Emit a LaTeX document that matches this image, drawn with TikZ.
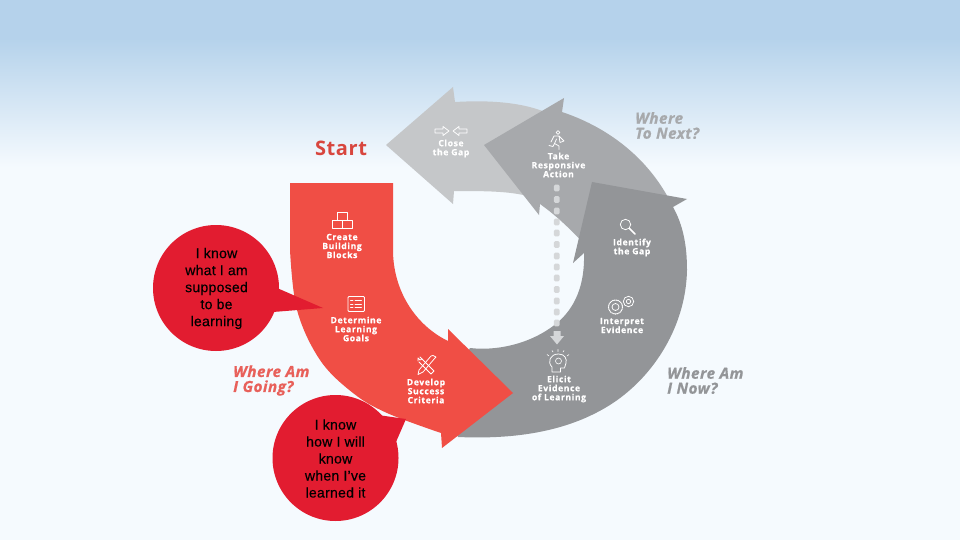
\documentclass[tikz,border=0pt]{standalone}
\usepackage{fontspec}
\setmainfont{Open Sans}
\newfontfamily\callfont[LetterSpace=2,FakeBold=0.3]{Liberation Sans}
\newfontfamily\labfont[LetterSpace=7,BoldFeatures={FakeBold=0.7}]{Open Sans}
\newfontfamily\headfont[LetterSpace=3,BoldItalicFeatures={FakeBold=0.7}]{Open Sans}
\definecolor{redA}{HTML}{F04E45}
\definecolor{redH}{HTML}{E8605A}
\definecolor{greyA}{HTML}{C5C7C9}
\definecolor{greyB}{HTML}{A7A9AC}
\definecolor{greyC}{HTML}{939598}
\definecolor{dotc}{HTML}{D5D7D9}
\definecolor{callc}{HTML}{E21C30}
\definecolor{bgtop}{HTML}{B5D2EB}
\definecolor{bgbot}{HTML}{F5FAFE}
\tikzset{
 lab/.style={text=white,font=\labfont\bfseries\fontsize{8.6}{9}\selectfont,align=center,inner sep=0pt},
 headA/.style={font=\headfont\bfseries\itshape\fontsize{15.3}{15}\selectfont,align=left,inner sep=0pt,anchor=west},
 call/.style={font=\callfont\fontsize{14}{17}\selectfont,align=center,text=black,inner sep=0pt},
 ico/.style={draw=white,line width=.75pt,line join=round,line cap=round,fill=none},
 dotm/.style={fill=dotc,rounded corners=1.5pt,draw=none}
}
\begin{document}
\begin{tikzpicture}[x=1pt,y=-1pt]
\useasboundingbox (0,0) rectangle (960,540);
\fill[bgbot] (0,0) rectangle (960,540);
\fill[bgtop] (0,0) rectangle (960,38);
\shade[top color=bgtop,bottom color=bgbot] (0,38) rectangle (960,167);
% light grey arrow
\fill[greyA] (386,145) -- (453,87) -- (455,102) .. controls (490,100) and (525,102) .. (552,115)
  -- (560,200) -- (523,195) .. controls (505,191) and (480,191) .. (454,191) -- (453,204) -- cycle;
% mid grey arrow
\fill[greyB] (484,145) -- (564,98) -- (562,112) .. controls (610,128) and (650,160) .. (672,205)
  -- (590,250) .. controls (580,240) and (565,222) .. (540,204) -- (539,215) -- cycle;
% dark grey arc with head
\fill[greyC] (592,182) -- (687,199) -- (673,207) .. controls (683,225) and (687,245) .. (687,270)
  .. controls (686,325) and (655,375) .. (613,403) .. controls (575,428) and (525,440) .. (458,437)
  -- (440,400) -- (470,348) .. controls (495,351) and (530,345) .. (557,323)
  .. controls (575,308) and (585,285) .. (584,253) -- (573,263) -- cycle;
% red arrow
\fill[redA] (290,183) -- (393,183) -- (393,250) .. controls (393,290) and (415,325) .. (448,341)
  -- (448,329) -- (513,393) -- (442,448) -- (441,433)
  -- plot[smooth,tension=.6] coordinates {(441,433) (387,413) (353,393) (320,360) (297,310) (290,250)} -- cycle;
% dotted column
\foreach \yy in {188,199.5,211,222,233,244.5,256,267,278,289.5,301,312,323}
  \fill[dotm] (553.8,\yy-3.4) rectangle (559.6,\yy+3.4);
\fill[dotc] (553.5,331) -- (560.5,331) -- (560.5,336) -- (564,336) -- (557,344.5) -- (550,336) -- (553.5,336) -- cycle;
% callouts
\fill[callc] (216,288) circle (63);
\fill[callc] (277,288) -- (323,308) -- (273,312) -- cycle;
\fill[callc] (335.5,458) circle (63);
\fill[callc] (378,415) -- (406,419) -- (396,442) -- cycle;
\node[call] (c1) at (216.5,288.5) {I know\\what I am\\supposed\\to be\\learning};
\node[call] (c2) at (335.5,458.5) {I know\\how I will\\know\\when I’ve\\learned it};
% headings
\node[font=\headfont\bfseries\fontsize{20}{20}\selectfont,text=redA!90!black,inner sep=0pt] (st) at (341,148) {Start};
\node[headA,text=greyB] (h1) at (635,125.5) {Where\\To Next?};
\node[headA,text=greyC] (h2) at (667,380.5) {Where Am\\I Now?};
\node[headA,text=redH] (h3) at (233,380.5) {Where Am\\I Going?};
% labels
\node[lab] (l1) at (342,246) {Create\\Building\\Blocks};
\node[lab] (l2) at (356,329) {Determine\\Learning\\Goals};
\node[lab] (l3) at (426,391) {Develop\\Success\\Criteria};
\node[lab] (l4) at (559,389) {Elicit\\Evidence\\of Learning};
\node[lab] (l5) at (622,325.5) {Interpret\\Evidence};
\node[lab] (l6) at (632,247.5) {Identify\\the Gap};
\node[lab] (l7) at (558.5,165) {Take\\Responsive\\Action};
\node[lab] (l8) at (451,148.5) {Close\\the Gap};
% icons: blocks
\draw[ico] (332.5,220.5) rectangle (342.5,228.5) (342.5,220.5) rectangle (352.5,228.5) (337.5,212) rectangle (347.5,220.5);
% checklist
\draw[ico,rounded corners=1pt] (348,296.5) rectangle (364.5,311.5);
\draw[ico,line width=.6pt] (355,300.5)--(361.5,300.5) (355,304)--(361.5,304) (355,307.5)--(361.5,307.5)
  (350.5,300.5)--(353,300.5) (350.5,304)--(353,304) (350.5,307.5)--(353,307.5);
% tools
\draw[ico] (419,362)--(431,374) (422,359)--(434,371) (431,374)--(434,371);
\draw[ico] (418,361)--(418,358) (418,358)--(420,360) (420,360)--(422,359) (422,359)--(420,357);
\draw[ico] (435,358)--(423,372) (431,356)--(419,370) (419,370)--(418,374.5)--(423,372) (431,356)--(433,355.5)--(436,357)--(435,358);
% head with bulb
\draw[ico] (552,372)--(552,367) .. controls (547,362) and (550,354) .. (558.5,354) .. controls (565,354) and (567,359) .. (566,363) -- (564.5,368) -- (560.5,368) -- (560.5,372) -- cycle;
\draw[ico,line width=.6pt] (558.5,361) circle (3);
\draw[ico,line width=.6pt] (549,356)--(547,354.5) (558,351.5)--(558,349.5) (567,356)--(569,354.5) (553,352)--(552,350.5) (563,352)--(564,350.5);
% gears
\draw[ico,densely dotted,line width=1.1pt] (615.5,307) circle (7);
\draw[ico] (615.5,307) circle (3.5);
\draw[ico] (628.5,301.5) circle (5.2) (628.5,301.5) circle (2.2);
% magnifier
\draw[ico] (625.5,224.5) circle (5.2);
\draw[ico,line width=1.6pt] (629.5,228.5)--(635,234);
% runner
\draw[ico] (558,132.5) circle (1.8);
\draw[ico] (554,136)--(559,136)--(564,141)--(560,142.5) (551,142)--(554,136) (556.5,139)--(554.5,143.5)--(559,146)--(559,149.5)
  (554.5,143.5)--(553,146.5)--(549,145.5) (559,136)--(560,142.5);
% arrows
\draw[ico] (435,129)--(443,129)--(443,126.5)--(449,131)--(443,135.5)--(443,133)--(435,133)--cycle;
\draw[ico] (467,129)--(459,129)--(459,126.5)--(453,131)--(459,135.5)--(459,133)--(467,133)--cycle;
\end{tikzpicture}
\end{document}
